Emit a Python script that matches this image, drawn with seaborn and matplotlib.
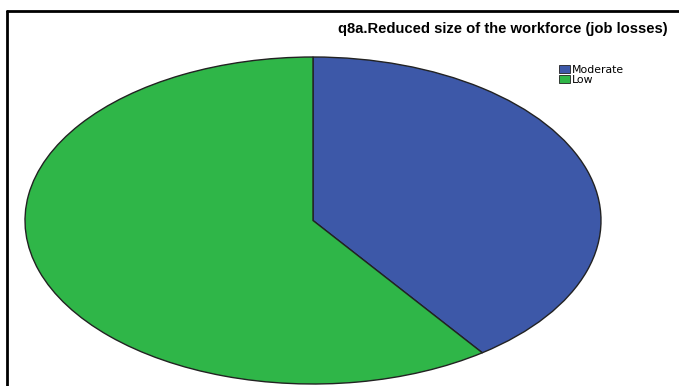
import matplotlib.pyplot as plt
import seaborn as sns
from matplotlib.lines import Line2D
from matplotlib.patches import Patch

categorias = ["Moderate", "Low"]
porcentajes = [40, 60]
colores = ["#3D58A8", "#2FB648"]

sns.set_style("white")
plt.rcParams["font.family"] = ["Liberation Sans", "DejaVu Sans"]
plt.rcParams["text.color"] = "black"

fig = plt.figure(figsize=(6.79, 3.86), dpi=100)

# la elipse ocupa un rectangulo fijo de la figura
ax = fig.add_axes([25 / 679, 2 / 386, 576 / 679, 327 / 386])
ax.pie(porcentajes, colors=colores, startangle=90, counterclock=False,
       wedgeprops={"edgecolor": "#222222", "linewidth": 1.0})
ax.set_aspect("auto")
ax.set_xlim(-1, 1)
ax.set_ylim(-1, 1)
ax.axis("off")

fig.text(668 / 679, 1 - 29 / 386, "q8a.Reduced size of the workforce (job losses)",
         ha="right", va="center", fontsize=10.6, fontweight="bold", color="black")

handles = [Patch(facecolor=c, edgecolor="#222222", linewidth=0.6) for c in colores]
fig.legend(handles, categorias, loc="upper left", bbox_to_anchor=(551 / 679, 1 - 57 / 386),
           frameon=False, handlelength=1.1, handleheight=0.8,
           handletextpad=0.15, labelspacing=0.0, borderpad=0.2, labelcolor="black",
           prop={"family": "DejaVu Sans", "size": 7.8})

# marco negro arriba y a la izquierda
fig.add_artist(Line2D([7 / 679, 1], [1 - 11 / 386, 1 - 11 / 386], color="black", lw=2))
fig.add_artist(Line2D([7 / 679, 7 / 679], [0, 1 - 11 / 386], color="black", lw=2))

fig.savefig("out.png", dpi=100)
